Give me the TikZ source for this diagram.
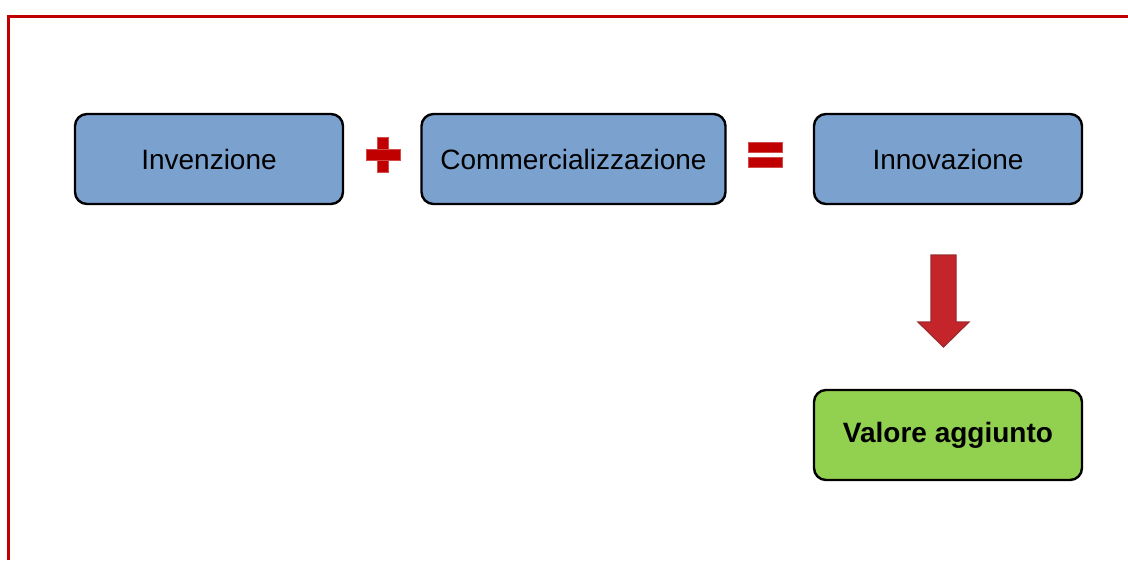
\documentclass[tikz,border=0pt]{standalone}
\usepackage{fontspec}
\setmainfont{Liberation Sans}
\begin{document}
\begin{tikzpicture}[x=1pt,y=-1pt,
  boxbase/.style={draw=black, line width=2.4pt, rounded corners=12pt,
    minimum width=268pt, minimum height=90pt, inner sep=0pt,
    font=\fontsize{28}{32}\selectfont},
  bluebox/.style={boxbase, fill=boxblue},
  greenbox/.style={boxbase, fill=boxgreen, font=\fontsize{28}{32}\selectfont\bfseries},
  redmark/.style={fill=markred, draw=markred!70!white, line width=0.6pt}
]
\definecolor{boxblue}{HTML}{7BA1CE}
\definecolor{boxgreen}{HTML}{92D050}
\definecolor{markred}{HTML}{C00000}
\definecolor{arrowred}{HTML}{C3252A}
\definecolor{arrowedge}{HTML}{9E2A2E}
\definecolor{framered}{HTML}{C00000}

\useasboundingbox (0,0) rectangle (1128,560);

% frame: only top and left edges are visible
\draw[framered, line width=2.6pt] (8.5,560) -- (8.5,16.5) -- (1128,16.5);

% boxes
\node[bluebox] (inv) at (209,159) {Invenzione};
\node[bluebox, minimum width=304pt] (comm) at (573.5,159) {Commercializzazione};
\node[bluebox] (innov) at (948,159) {Innovazione};
\node[greenbox] (val) at (948,435) {Valore aggiunto};

% plus sign
\fill[redmark] (377,137) rectangle (388,172);
\fill[redmark] (366,149) rectangle (400,160);

% equals sign
\filldraw[redmark] (748,142) rectangle (782,152);
\filldraw[redmark] (748,157) rectangle (782,167);

% block arrow from Innovazione down to Valore aggiunto
\coordinate (atop) at (943.5,255);
\filldraw[fill=arrowred, draw=arrowedge, line width=1.2pt]
  (931,255) -- (956,255) -- (956,322) -- (969,322) -- (943.5,347)
  -- (918,322) -- (931,322) -- cycle;
\end{tikzpicture}
\end{document}
